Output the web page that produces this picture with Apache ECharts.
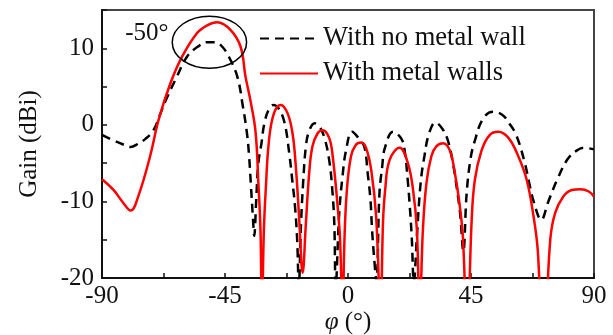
<!DOCTYPE html>
<html>
<head>
<meta charset="utf-8">
<script src="https://cdn.jsdelivr.net/npm/echarts@6/dist/echarts.min.js"></script>
<style>
  html, body { margin: 0; padding: 0; background: #fff; }
  #chart { width: 613px; height: 335px; }
</style>
</head>
<body>
<div id="chart"></div>
<script>
// tick labels shown on the axes
const xLabels = [-90, -45, 0, 45, 90];
const yLabels = [-20, -10, 0, 10];

const seriesNames = ['With no metal wall', 'With metal walls'];

// dashed black curve (no metal wall)
const noWallAngle = [-90, -86, -82, -79.5, -77, -74, -71.1, -68.5, -66.3, -62.6, -58.9, -55, -51.5, -48.5, -46, -43.6, -40.5,
  -38.5, -37, -36.2, -35.5, -34.8, -34.3, -33.6, -32.8, -31.7, -30.6, -29, -27.3, -25.5, -23.3, -21.5, -20.4, -19.4, -18.6, -18,
  -17.2, -16.4, -15.3, -14, -12.2, -10.5, -8.6, -6.8, -5.7, -5, -4.5, -3.2, -2, -0.7, 1.5, 4, 6, 7.2, 8.2, 8.8, 9.7, 10.4,
  11.5, 12.5, 13.5, 16.5, 19.5, 20.7, 21.8, 22.6, 23.3, 24.1, 25.3, 26.6, 28, 29.6, 32, 34.5, 36.5, 38.4, 39.7, 41, 42.2,
  43.4, 44.8, 46.3, 49.4, 53, 56.5, 59, 61.5, 64.5, 66.3, 68, 70.7, 73.3, 76.6, 80.3, 83.5, 86.4, 90];
const noWallGain = [-1.3, -2.0, -2.6, -2.9, -2.5, -1.8, -0.65, 1.6, 3.5, 6.3, 8.9, 10.2, 10.8, 10.8, 10.2, 8.9, 6.3,
  2.5, -1, -4, -8, -12, -14.5, -10, -5, -2.5, 0.2, 2.0, 2.6, 2.2, 0.4, -3.7, -7.2, -10.6, -15, -21,
  -13, -7.5, -2.5, -0.6, 0.2, -0.2, -1.7, -4.8, -8.7, -13, -21, -11.5, -6.7, -3.3, -0.9, -1.8, -2.9, -6.3, -9.7, -13.7, -18, -20.5,
  -9, -5.5, -3, -0.9, -1.8, -3.3, -7, -10.6, -14.5, -20.5, -14, -7.5, -4, -1.2, 0.3, -0.5, -2, -5, -8, -11.5, -16.5,
  -9, -4.5, -2.2, 0.8, 1.7, 1.3, 0.2, -1.3, -4.7, -7.6, -10.1, -12.4, -10, -7.1, -4.5, -3.4, -3, -3.2];

// solid red curve (with metal walls)
const wallAngle = [-90, -85.8, -82.2, -79.5, -76.7, -72.4, -69.3, -65, -60.7, -55.2, -51.5, -47.9, -43, -39.3, -37.5,
  -35.6, -33.8, -32.8, -32, -31.5, -30.8, -30.1, -28.9, -27.1, -24.6, -22.1, -20.3, -19.1, -17.9, -16.6, -15.4, -14.2, -13,
  -11.1, -9.3, -6.9, -5.6, -3.8, -2.9, -2, -1.3, -0.4, 1.1, 2.9, 4.8, 6.6, 8.5, 10.3, 11.9, 12.8, 13.6, 15.2, 18.9, 21.9,
  23.8, 25.2, 26.2, 27.4, 28.7, 30.5, 32.3, 34.8, 37.2, 39.1, 40.9, 42.1, 43.6, 45.2, 46.4, 48.9, 51.9, 55, 58.7, 62.3,
  65.4, 67.9, 69.4, 71.5, 74, 75.8, 78.9, 81.9, 85, 88.1, 90];
const wallGain = [-7.1, -8.5, -10.2, -11.2, -9.3, -4.1, 0.65, 5.4, 8.9, 12.0, 13.0, 13.4, 12.4, 10.2, 6.3,
  3, -1, -7.5, -14, -25, -14, -8.5, -2, 1.5, 2.6, 1.5, -1.1, -5.4, -12, -19.3, -12.8, -6.3, -2.8,
  -1.1, -0.7, -1.7, -4.1, -10.6, -15, -25, -15, -8.5, -4.1, -2.6, -2.3, -3, -5.9, -12, -25, -12.8, -8.5, -4.6, -3, -5,
  -8.5, -13.7, -25, -13.7, -7.6, -4.1, -2.8, -2.4, -3.3, -6.3, -10.6, -15, -28, -12.8, -7.2, -3.3, -1.3, -0.9, -1.7, -4.1,
  -7.2, -12, -16.3, -30, -15, -11.5, -9.3, -8.5, -8.4, -8.7, -9.4];

const pairs = (xs, ys) => xs.map((x, i) => [x, ys[i]]);

const serif = 'Liberation Serif';
const myChart = echarts.init(document.getElementById('chart'));

const options = {
  animation: false,
  grid: {
    left: 102, right: 19, top: 10, bottom: 57,
    outerBoundsMode: 'none',
    show: true, borderColor: '#444', borderWidth: 2
  },
  legend: {
    orient: 'vertical',
    left: 254,
    top: 20,
    itemWidth: 58,
    itemHeight: 14,
    itemGap: 8,
    itemStyle: { opacity: 0 },
    textStyle: { fontFamily: serif, fontSize: 26.5, lineHeight: 25, color: '#111' },
    data: seriesNames
  },
  xAxis: {
    type: 'value',
    min: -90, max: 90, interval: 22.5,
    name: '{i|φ} (°)',
    nameLocation: 'middle',
    nameGap: 32,
    nameMoveOverlap: false,
    nameTextStyle: {
      fontFamily: serif, fontSize: 25, color: '#111',
      rich: { i: { fontFamily: serif, fontSize: 25, fontStyle: 'italic', color: '#111' } }
    },
    axisLine: { onZero: false, lineStyle: { color: '#111', width: 2 } },
    axisTick: { inside: true, length: 5, lineStyle: { color: '#111', width: 1.5 } },
    axisLabel: {
      fontFamily: serif, fontSize: 25, color: '#111', margin: 6,
      formatter: v => xLabels.includes(v) ? String(v) : ''
    },
    splitLine: { show: false }
  },
  yAxis: {
    type: 'value',
    min: -20, max: 15, interval: 5,
    name: 'Gain (dBi)',
    nameLocation: 'middle',
    nameGap: 60,
    nameMoveOverlap: false,
    nameTextStyle: { fontFamily: serif, fontSize: 25, color: '#111' },
    axisLine: { onZero: false, lineStyle: { color: '#111', width: 2 } },
    axisTick: { inside: true, length: 5, lineStyle: { color: '#111', width: 1.5 } },
    axisLabel: {
      fontFamily: serif, fontSize: 25, color: '#111', margin: 8,
      formatter: v => yLabels.includes(v) ? String(v) : ''
    },
    splitLine: { show: false }
  },
  series: [
    {
      name: seriesNames[0],
      type: 'line',
      data: pairs(noWallAngle, noWallGain),
      symbol: 'none',
      smooth: 0.4,
      lineStyle: { color: '#000', width: 2.5, type: [9, 6] },
      itemStyle: { color: '#000' }
    },
    {
      name: seriesNames[1],
      type: 'line',
      data: pairs(wallAngle, wallGain),
      symbol: 'none',
      smooth: 0.4,
      lineStyle: { color: '#ff0000', width: 2.5 },
      itemStyle: { color: '#ff0000' }
    }
  ]
};

myChart.setOption(options);

// "-50°" note with an ellipse around the main lobe
const c = myChart.convertToPixel({ gridIndex: 0 }, [-50.7, 10.8]);
const e = myChart.convertToPixel({ gridIndex: 0 }, [-37.1, 14.2]);
const t = myChart.convertToPixel({ gridIndex: 0 }, [-81.5, 12]);
myChart.setOption({
  graphic: [
    {
      type: 'ellipse',
      shape: { cx: c[0], cy: c[1], rx: e[0] - c[0], ry: c[1] - e[1] },
      style: { fill: 'none', stroke: '#000', lineWidth: 1.5 },
      z: 10
    },
    {
      type: 'text',
      x: t[0], y: t[1],
      style: { text: '-50°', fontFamily: serif, fontSize: 25, fill: '#111', verticalAlign: 'middle' },
      z: 10
    }
  ]
});
</script>
</body>
</html>
